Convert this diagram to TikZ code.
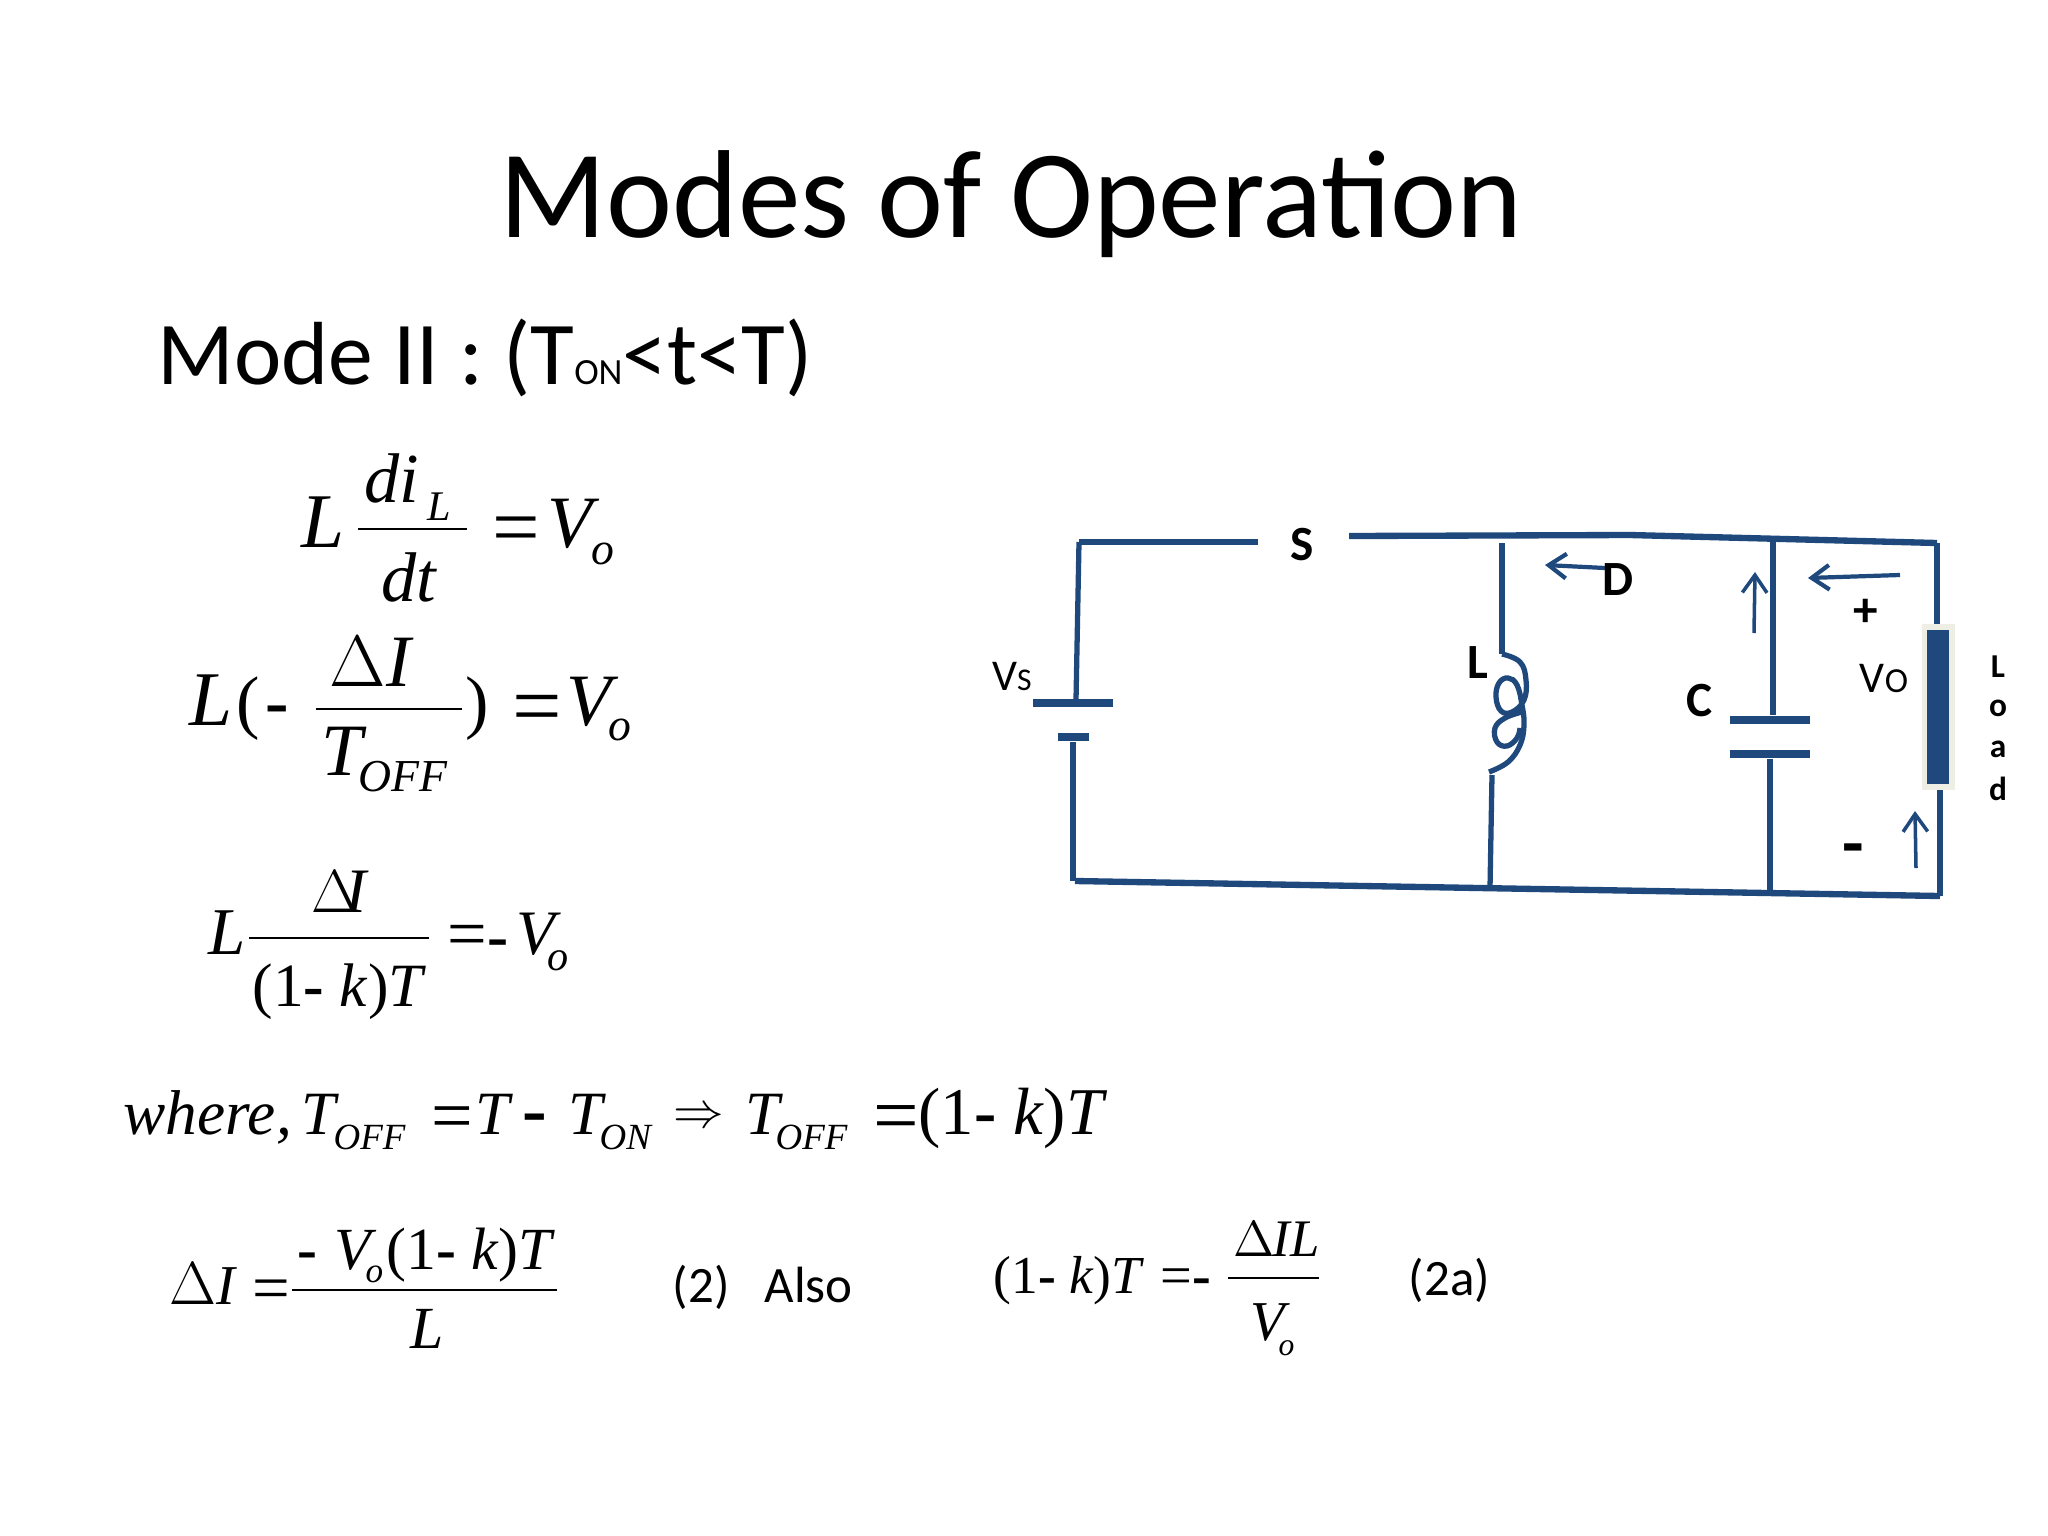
\documentclass[tikz,border=0pt]{standalone}
\usepackage{fontspec}
\usepackage{graphicx}
\usepackage{tikz}
\usetikzlibrary{arrows.meta}
\setmainfont{Carlito}
\newfontfamily\eqfont{Liberation Serif}
\definecolor{wire}{HTML}{1F497D}
\definecolor{loadedge}{HTML}{EEEEE4}
\newcommand{\sz}[1]{\fontsize{#1}{#1}\selectfont}
\newcommand{\mns}{{\upshape\bfseries -}}
\newcommand{\onek}{\textup{(1}\mns\ k\textup{)}T}
\tikzset{
  eqn/.style={anchor=base west,inner sep=0pt,font=\eqfont\itshape\sz{#1}},
  eqsign/.style={anchor=base west,inner sep=0pt,font=\eqfont\sz{#1}},
  txt/.style={anchor=base west,inner sep=0pt,font=\sz{#1}},
  lbl/.style={inner sep=0pt,font=\bfseries\sz{#1}},
  plate/.style={rectangle,fill=wire,inner sep=0pt,minimum height=0.08cm,minimum width=#1},
  wr/.style={draw=wire,line width=1.8pt},
  thin wr/.style={draw=wire,line width=1.5pt},
  barline/.style={line width=0.65pt},
  cur/.style={draw=wire,line width=1.2pt,-{Straight Barb[length=5pt,width=7pt]}}
}
\begin{document}
\begin{tikzpicture}[x=0.01cm,y=-0.01cm]
\useasboundingbox (0,0) rectangle (2048,1536);
% headings
\path (1011,204) node(title) [inner sep=0pt,font=\sz{35.6}] {Modes of Operation}
(157,384) node(mode) [txt=25.5] {Mode II : (T{\sz{10.5}ON}<t<T)};
% first equation
\path (301,547) node(a1) [eqn=22] {L}
(364,502) node(a2) [eqn=20] {di}
(427,520) node(a7) [eqn=12] {L}
(381,601) node(a3) [eqn=20] {dt}
(492,555) node(a4) [eqsign=24] {=}
(547,547) node(a5) [eqn=21] {V}
(591,564) node(a6) [eqn=13] {o};
\draw[barline] (358,529) -- (467,529);
% second equation
\path (189,725) node(b1) [eqn=22] {L}
(236,725) node(b10) [eqsign=20] {(}
(265,725) node(b11) [eqn=20] {\mns}
(329,686) node(b2) [eqsign=20] {$\Delta$}
(386,686) node(b3) [eqn=21] {I}
(321,775) node(b4) [eqn=21] {T}
(358,791) node(b5) [eqn=13] {OFF}
(465,725) node(b6) [eqsign=20] {)}
(512,735) node(b7) [eqsign=25] {=}
(566,725) node(b8) [eqn=21] {V}
(608,740) node(b9) [eqn=13] {o};
\draw[barline] (316,709) -- (462,709);
% third equation
\path (208,954) node(c1) [eqn=19] {L}
(311,912) node(c2) [eqsign=18] {$\Delta$}
(345,912) node(c3) [eqn=18] {I}
(252,1006) node(c4) [eqn=17.5] {\onek}
(447,957) node(c5) [eqsign=18] {{\sz{20}=}\mns}
(516,954) node(c6) [eqn=18] {V}
(547,970) node(c7) [eqn=12] {o};
\draw[barline] (249,938) -- (429,938);
% where line
\path (123,1134) node(d1) [eqn=18] {where,}
(301,1134) node(d2) [eqn=17.5] {T}
(333,1149) node(d3) [eqn=10.5] {OFF}
(431,1140) node(d4) [eqsign=21] {=}
(475,1134) node(d5) [eqn=17.5] {T}
(522,1134) node(d6) [eqn=21] {\mns}
(568,1134) node(d7) [eqn=17.5] {T}
(599,1149) node(d8) [eqn=10.5] {ON}
(673,1127) node(d9) [eqsign=15] {$\Rightarrow$}
(745,1134) node(d10) [eqn=17.5] {T}
(775,1149) node(d11) [eqn=10.5] {OFF}
(873,1142) node(d12) [eqsign=23] {=}
(918,1134) node(d13) [eqn=19] {\onek};
% last line
\path (169,1304) node(e1) [eqsign=16] {$\Delta$}
(216,1304) node(e2) [eqn=16] {I}
(252,1310) node(e3) [eqsign=19] {=}
(297,1269) node(e4) [eqn=17] {\mns}
(334,1269) node(e5) [eqn=17] {V}
(365,1282) node(e6) [eqn=10] {o}
(386,1269) node(e7) [eqn=17] {\onek}
(410,1348) node(e8) [eqn=17] {L}
(672,1302) node(e9) [txt=14.5] {(2)}
(764,1302) node(e10) [txt=14.5] {Also}
(993,1293) node(f1) [eqn=15.2] {\onek}
(1160,1294) node(f2) [eqsign=16] {=\mns}
(1233,1256) node(f3) [eqsign=15] {$\Delta$}
(1272,1256) node(f4) [eqn=15] {IL}
(1250,1340) node(f5) [eqn=16] {V}
(1278,1355) node(f6) [eqn=9] {o}
(1408,1295) node(f7) [txt=14.5] {(2a)};
\draw[barline] (292,1290) -- (557,1290);
\draw[barline] (1228,1278) -- (1319,1278);
% circuit
\path (1073,703) node(vsa) [plate=0.8cm] {}
(1073,737) node(vsb) [plate=0.31cm] {}
(1770,720) node(capa) [plate=0.8cm] {}
(1770,754) node(capb) [plate=0.8cm] {}
(1938,707) node(loadedge) [rectangle,fill=loadedge,inner sep=0pt,minimum width=0.33cm,minimum height=1.65cm] {}
(1938,707) node(loadbar) [rectangle,fill=wire,inner sep=0pt,minimum width=0.22cm,minimum height=1.54cm] {}
(1079,542) coordinate(tl)
(1076,700) coordinate(vsin)
(1258,542) coordinate(swl)
(1349,536) coordinate(swr)
(1630,535) coordinate(tm)
(1502,543) coordinate(ltop)
(1773,540) coordinate(ctop)
(1937,543) coordinate(tr)
(1075,881) coordinate(bl)
(1490,888) coordinate(lbot)
(1770,893) coordinate(cbot)
(1940,896) coordinate(br)
(1502,654) coordinate(coila)
(1489,772) coordinate(coilb)
(1492,775) coordinate(lseg)
(1605,568) coordinate(da) (1545,565) coordinate(db)
(1754,633) coordinate(ca) (1755,572) coordinate(cb)
(1900,575) coordinate(va) (1808,578) coordinate(vb)
(1916,868) coordinate(ua) (1915,811) coordinate(ub);
\draw[wr] (swl) -- (tl);
\draw[thin wr] (tl) -- (vsin);
\draw[thin wr] (vsb.south) -- (vsb.south |- bl);
\draw[wr] (swr) -- (tm) -- (tr);
\draw[wr] (bl) -- (br);
\draw[thin wr] (ltop) -- (coila);
\draw[thin wr] (lseg) -- (lbot);
\draw[thin wr] (ctop) -- (capa.north -| ctop);
\draw[thin wr] (capb.south) -- (cbot);
\draw[thin wr] (tr) -- (loadedge.north -| tr);
\draw[thin wr] (loadedge.south -| br) -- (br);
% coil
\draw[thin wr] plot[smooth,tension=0.7] coordinates {(coila) (1520,662) (1526,680) (1524,700) (1512,712) (1501,711) (1496,697) (1499,683) (1508,678) (1517,685) (1522,705) (1524,725) (1520,745) (1508,762) (coilb)};
\draw[thin wr] plot[smooth,tension=0.7] coordinates {(1522,712) (1505,718) (1495,728) (1497,742) (1507,746) (1517,738) (1520,728)};
% current arrows
\draw[cur] (da) -- (db);
\draw[cur,line width=1pt] (ca) -- (cb);
\draw[cur] (va) -- (vb);
\draw[cur,line width=1pt] (ua) -- (ub);
% labels
\path (1012,676) node(vs) [inner sep=0pt,font=\sz{12.5}] {V{\sz{9}S}}
(1302,545) node(s) [lbl=14] {S}
(1618,580) node(d) [lbl=14] {D}
(1478,663) node(l) [lbl=14] {L}
(1700,701) node(c) [lbl=14] {C}
(1866,613) node(plus) [lbl=14] {+}
(1884,679) node(vo) [inner sep=0pt,font=\sz{12.5}] {V{\sz{10}O}}
(1853,856) node(minus) [lbl=20] {-}
(1998,667) node(ll) [lbl=9.5] {L}
(1998,708) node(lo) [lbl=9.5] {o}
(1998,749) node(la) [lbl=9.5] {a}
(1998,789) node(ld) [lbl=9.5] {d};
\end{tikzpicture}
\end{document}
